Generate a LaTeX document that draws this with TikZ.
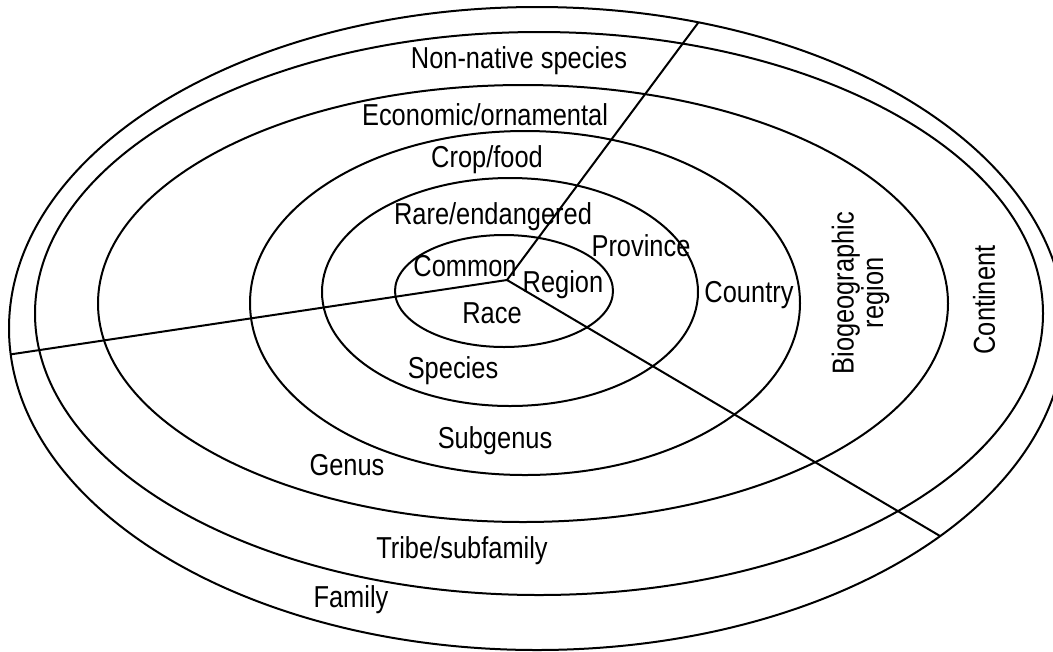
\documentclass[tikz,border=0pt]{standalone}
\usepackage{fontspec}
\setmainfont{Liberation Sans}[FakeStretch=0.84]
\begin{document}
\begin{tikzpicture}[x=0.75pt,y=-0.75pt,
  ring/.style={line width=1.5pt},
  spoke/.style={line width=1.5pt},
  lab/.style={font=\fontsize{22.7}{21}\selectfont, inner sep=0pt, anchor=base},
  vlab/.style={font=\fontsize{22.7}{21}\selectfont, inner sep=0pt, anchor=center, rotate=90, align=center}]
\useasboundingbox (0,0) rectangle (1053,651);
\clip (0,0) rectangle (1053,651);
\fill[white] (0,0) rectangle (1053,651);
% rings
\draw[ring] (504,291) ellipse [x radius=81.75pt, y radius=42pt];
\draw[ring] (510,292) ellipse [x radius=141pt, y radius=85.5pt];
\draw[ring] (525,303) ellipse [x radius=206.25pt, y radius=129pt];
\draw[ring] (523,303.5) ellipse [x radius=318.75pt, y radius=163.875pt];
\draw[ring] (539,313.5) ellipse [x radius=378pt, y radius=211.125pt];
\draw[ring] (537,328.5) ellipse [x radius=396pt, y radius=241.125pt];
% spokes
\coordinate (c) at (507,280);
\coordinate (tA) at (698.5,22.3);
\coordinate (tB) at (10.5,354.4);
\coordinate (tC) at (940,536);
\draw[spoke] (c) -- (tA);
\draw[spoke] (c) -- (tB);
\draw[spoke] (c) -- (tC);
% labels
\node[lab] (nn) at (519,68) {Non-native species};
\node[lab] (eo) at (485,125) {Economic/ornamental};
\node[lab] (cf) at (487,167) {Crop/food};
\node[lab] (re) at (493,224) {Rare/endangered};
\node[lab] (pr) at (641,256) {Province};
\node[lab] (co) at (465,276) {Common};
\node[lab] (rg) at (563,292) {Region};
\node[lab] (ra) at (492,323) {Race};
\node[lab] (sp) at (453,378) {Species};
\node[lab] (ct) at (749,302) {Country};
\node[lab] (sg) at (495,448) {Subgenus};
\node[lab] (ge) at (347,475) {Genus};
\node[lab] (tr) at (462,558) {Tribe/subfamily};
\node[lab] (fa) at (351,607) {Family};
\node[vlab] (bg) at (860.5,293) {Biogeographic\\region};
\node[vlab] (cn) at (984,300) {Continent};
\end{tikzpicture}
\end{document}
